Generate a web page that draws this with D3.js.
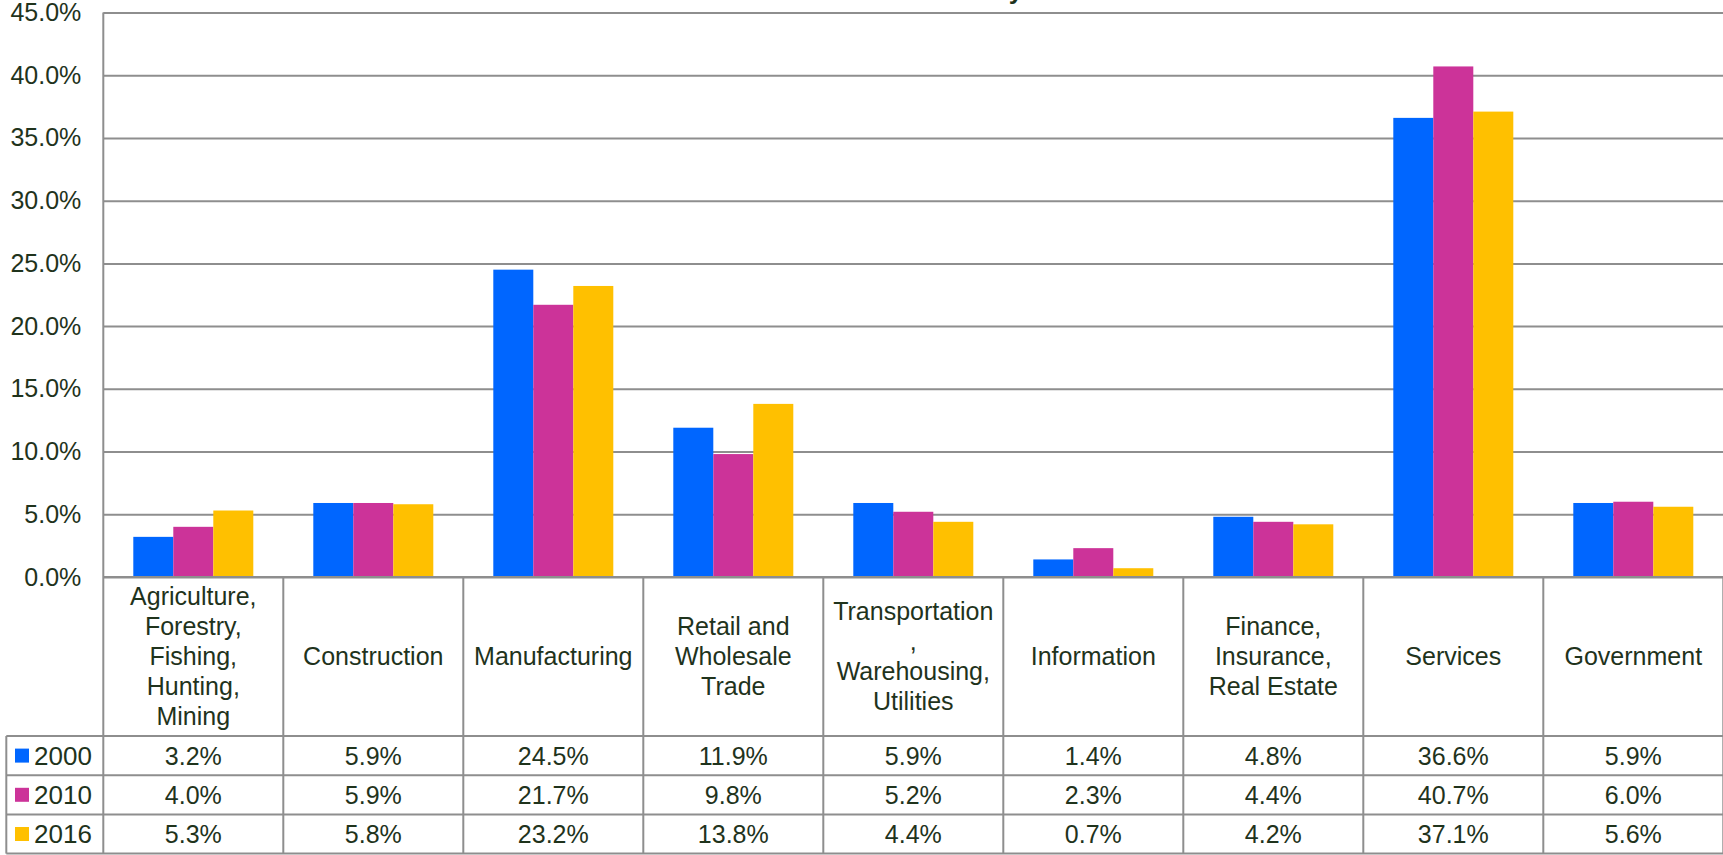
<!DOCTYPE html>
<html>
<head>
<meta charset="utf-8">
<script src="https://cdn.jsdelivr.net/npm/d3@7"></script>
<style>
  html, body { margin: 0; padding: 0; background: #ffffff; overflow: hidden; }
  svg { display: block; }
  text { font-family: "Liberation Sans", Arial, sans-serif; fill: #1f331c; }
</style>
</head>
<body>
<svg id="chart" width="1723" height="855"></svg>
<script>
// Industry categories (line breaks as shown in the header cells)
const categories = [
  "Agriculture,\nForestry,\nFishing,\nHunting,\nMining",
  "Construction",
  "Manufacturing",
  "Retail and\nWholesale\nTrade",
  "Transportation\n,\nWarehousing,\nUtilities",
  "Information",
  "Finance,\nInsurance,\nReal Estate",
  "Services",
  "Government"
];

const years = ["2000", "2010", "2016"];

// Share of employment (%) per industry
const values2000 = [3.2, 5.9, 24.5, 11.9, 5.9, 1.4, 4.8, 36.6, 5.9];
const values2010 = [4.0, 5.9, 21.7, 9.8, 5.2, 2.3, 4.4, 40.7, 6.0];
const values2016 = [5.3, 5.8, 23.2, 13.8, 4.4, 0.7, 4.2, 37.1, 5.6];

const yTicks = [0, 5, 10, 15, 20, 25, 30, 35, 40, 45];
const colors = ["#0066ff", "#cc3399", "#ffc000"];
const title = "Share of Jobs by Sector";

const series = [values2000, values2010, values2016];

const svg = d3.select("#chart");
const gridColor = "#8e8e8e";

const plotLeft = 103.3, plotRight = 1723.3;
const plotTop = 12.5, plotBottom = 577;
const headerBottom = 736, rowH = 39.2;
const legendLeft = 6.3;

const x0 = d3.scaleBand().domain(categories.map((d, i) => i)).range([plotLeft, plotRight]).padding(0);
const x1 = d3.scaleBand().domain(years).range([0, x0.bandwidth()]).paddingInner(0).paddingOuter(0.75);
const y = d3.scaleLinear().domain([0, 45]).range([plotBottom, plotTop]);

// Title: it sits above the top edge, only descenders reach into view
const titleText = svg.append("text")
  .attr("x", 0).attr("y", -1)
  .style("font-size", "26px").style("font-weight", "bold")
  .text(title);
const yIdx = title.indexOf("by") + 1;
const before = titleText.node().getSubStringLength(0, yIdx);
const glyphW = titleText.node().getSubStringLength(yIdx, 1);
titleText.attr("x", 1016 - before - glyphW / 2);

// Value axis with horizontal gridlines
const yAxis = d3.axisLeft(y)
  .tickValues(yTicks)
  .tickSize(-(plotRight - plotLeft))
  .tickPadding(22)
  .tickFormat(d => d3.format(".1f")(d) + "%");

const gy = svg.append("g").attr("transform", `translate(${plotLeft},0)`).call(yAxis);
gy.select(".domain").remove();
gy.selectAll(".tick line").attr("stroke", gridColor).attr("stroke-width", 2);
gy.selectAll(".tick text")
  .style("font-size", "25px")
  .attr("fill", "#1f331c")
  .style("font-family", "'Liberation Sans', Arial, sans-serif");

// Bars
const groups = svg.append("g").selectAll("g")
  .data(categories.map((c, i) => i))
  .join("g")
  .attr("transform", i => `translate(${x0(i)},0)`);

groups.selectAll("rect")
  .data(i => years.map((yr, k) => ({ yr, k, v: series[k][i] })))
  .join("rect")
  .attr("x", d => x1(d.yr))
  .attr("width", x1.bandwidth())
  .attr("y", d => y(d.v))
  .attr("height", d => y(0) - y(d.v))
  .attr("fill", d => colors[d.k]);

// Data table grid
const tableBottom = headerBottom + rowH * years.length;
const lines = svg.append("g").attr("stroke", gridColor).attr("stroke-width", 2);

// category axis line / table top
lines.append("line").attr("x1", plotLeft).attr("x2", plotRight).attr("y1", y(0)).attr("y2", y(0));
// plot left edge down through table
lines.append("line").attr("x1", plotLeft).attr("x2", plotLeft).attr("y1", plotTop).attr("y2", tableBottom);
// column separators
categories.forEach((c, i) => {
  const xr = x0(i) + x0.bandwidth();
  lines.append("line").attr("x1", xr).attr("x2", xr).attr("y1", y(0)).attr("y2", tableBottom);
});
// row separators
d3.range(years.length + 1).forEach(r => {
  const yy = headerBottom + r * rowH;
  lines.append("line").attr("x1", legendLeft).attr("x2", plotRight).attr("y1", yy).attr("y2", yy);
});
lines.append("line").attr("x1", legendLeft).attr("x2", legendLeft).attr("y1", headerBottom).attr("y2", tableBottom);

// Header labels
const lineH = 30;
const headerMid = (y(0) + headerBottom) / 2;
categories.forEach((c, i) => {
  const parts = c.split("\n");
  const t = svg.append("text")
    .attr("text-anchor", "middle")
    .style("font-size", "25px");
  parts.forEach((p, j) => {
    t.append("tspan")
      .attr("x", x0(i) + x0.bandwidth() / 2)
      .attr("y", headerMid + (j - (parts.length - 1) / 2) * lineH)
      .attr("dy", "0.35em")
      .text(p);
  });
});

// Value rows with legend keys
years.forEach((yr, k) => {
  const cy = headerBottom + k * rowH + rowH / 2;
  svg.append("rect")
    .attr("x", 15).attr("y", cy - 7)
    .attr("width", 14).attr("height", 14)
    .attr("fill", colors[k]);
  svg.append("text")
    .attr("x", 34).attr("y", cy).attr("dy", "0.36em")
    .style("font-size", "26px")
    .text(yr);
  series[k].forEach((v, i) => {
    svg.append("text")
      .attr("x", x0(i) + x0.bandwidth() / 2)
      .attr("y", cy).attr("dy", "0.36em")
      .attr("text-anchor", "middle")
      .style("font-size", "25px")
      .text(d3.format(".1f")(v) + "%");
  });
});
</script>
</body>
</html>
